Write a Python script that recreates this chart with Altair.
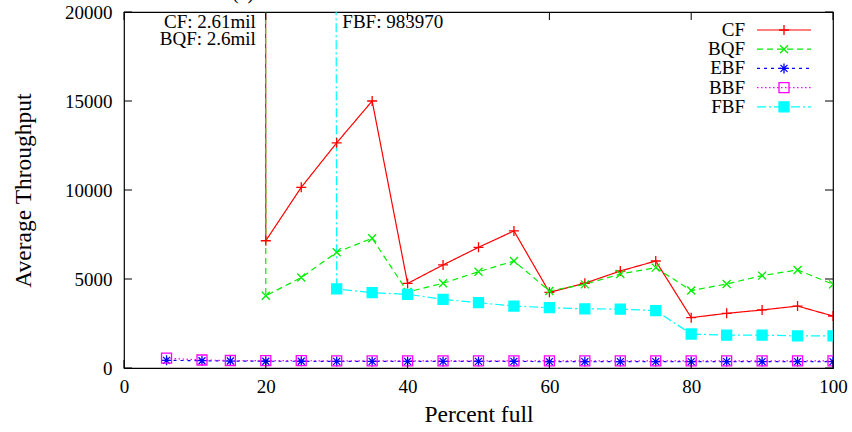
import altair as alt
import pandas as pd

# ---------------- data ----------------
series = ["CF", "BQF", "EBF", "BBF", "FBF"]
colors = ["#ff0000", "#00ee00", "#0000ff", "#ff00ff", "#00ffff"]
dashes = [[1, 0], [6, 4], [3, 4], [1.5, 2.5], [9, 3, 2, 3]]

x_cf = [15, 20, 25, 30, 35, 40, 45, 50, 55, 60, 65, 70, 75, 80, 85, 90, 95, 100]
cf = [2610000, 7150, 10150, 12650, 15000, 4750, 5790, 6780, 7700, 4250,
      4760, 5450, 6010, 2830, 3070, 3260, 3480, 2920]
bqf = [2600000, 4060, 5080, 6500, 7290, 4270, 4760, 5410, 6010, 4330,
       4700, 5280, 5640, 4350, 4720, 5190, 5510, 4700]

x_eb = [6, 11, 15, 20, 25, 30, 35, 40, 45, 50, 55, 60, 65, 70, 75, 80, 85, 90, 95, 100]
ebf = [430, 410, 390, 380, 380, 370, 370, 370, 370, 370,
       370, 360, 360, 360, 360, 360, 360, 360, 360, 360]
bbf = [550, 450, 420, 410, 410, 400, 400, 400, 400, 400,
       400, 400, 400, 400, 400, 400, 400, 400, 400, 400]

x_fbf = [25, 30, 35, 40, 45, 50, 55, 60, 65, 70, 75, 80, 85, 90, 95, 100]
fbf = [983970, 4440, 4230, 4140, 3860, 3670, 3480, 3390, 3320, 3310,
       3220, 1910, 1850, 1850, 1800, 1800]

x_ticks = [0, 20, 40, 60, 80, 100]
y_ticks = [0, 5000, 10000, 15000, 20000]

ann_text = ["CF: 2.61mil", "BQF: 2.6mil", "FBF: 983970"]
ann_x = [18.6, 18.6, 30.8]
ann_y = [19450, 18480, 19450]
ann_align = ["right", "right", "left"]

# ---------------- layout ----------------
W, H = 709, 356
FONT = "Liberation Serif"

rows = []
for name, xs, ys in [("CF", x_cf, cf), ("BQF", x_cf, bqf), ("EBF", x_eb, ebf),
                     ("BBF", x_eb, bbf), ("FBF", x_fbf, fbf)]:
    for xv, yv in zip(xs, ys):
        rows.append({"series": name, "x": xv, "y": yv})
df = pd.DataFrame(rows)

plus = "M-1,0L1,0M0,-1L0,1"
cross = "M-0.8,-0.8L0.8,0.8M-0.8,0.8L0.8,-0.8"
star = "M-1,0L1,0M0,-1L0,1M-0.7,-0.7L0.7,0.7M-0.7,0.7L0.7,-0.7"
shapes = [plus, cross, star, "square", "square"]
fills = ["transparent", "transparent", "transparent", "transparent", "#00ffff"]
sizes = [100, 100, 80, 70, 90]

xscale = alt.Scale(domain=[0, 100], nice=False, zero=False)
yscale = alt.Scale(domain=[0, 20000], nice=False, zero=False)

X = alt.X("x:Q", scale=xscale,
          axis=alt.Axis(values=x_ticks, ticks=False, domain=False, grid=False,
                        labelFontSize=19, labelPadding=9, title="Percent full",
                        titleFontSize=23.5, titleFontWeight="normal", titlePadding=6,
                        labelFont=FONT, titleFont=FONT, labelColor="black",
                        titleColor="black", labelFlush=False))
Y = alt.Y("y:Q", scale=yscale,
          axis=alt.Axis(values=y_ticks, format="d", ticks=False, domain=False, grid=False,
                        labelFontSize=19, labelPadding=12, title="Average Throughput",
                        titleFontSize=23.5, titleFontWeight="normal", titlePadding=29,
                        labelFont=FONT, titleFont=FONT, labelColor="black",
                        titleColor="black", labelFlush=False))

col = alt.Color("series:N", scale=alt.Scale(domain=series, range=colors), legend=None)
dash = alt.StrokeDash("series:N", scale=alt.Scale(domain=series, range=dashes), legend=None)
shp = alt.Shape("series:N", scale=alt.Scale(domain=series, range=shapes), legend=None)
fil = alt.Fill("series:N", scale=alt.Scale(domain=series, range=fills), legend=None)
siz = alt.Size("series:N", scale=alt.Scale(domain=series, range=sizes), legend=None)

lines = alt.Chart(df).mark_line(clip=True, strokeWidth=1.2).encode(
    x=X, y=Y, color=col, strokeDash=dash, detail="series:N")
points = alt.Chart(df).mark_point(clip=True, strokeWidth=1.3, opacity=1).encode(
    x=alt.X("x:Q", scale=xscale), y=alt.Y("y:Q", scale=yscale),
    stroke=alt.Stroke("series:N", scale=alt.Scale(domain=series, range=colors), legend=None),
    fill=fil, shape=shp, size=siz)

# inward ticks (gnuplot style, mirrored)
xt = pd.DataFrame({"x": x_ticks})
yt = pd.DataFrame({"y": y_ticks})
tick_b = alt.Chart(xt).mark_rule(color="black").encode(
    x=alt.X("x:Q", scale=xscale), y=alt.value(H), y2=alt.value(H - 8))
tick_t = alt.Chart(xt).mark_rule(color="black").encode(
    x=alt.X("x:Q", scale=xscale), y=alt.value(0), y2=alt.value(8))
tick_l = alt.Chart(yt).mark_rule(color="black").encode(
    y=alt.Y("y:Q", scale=yscale), x=alt.value(0), x2=alt.value(8))
tick_r = alt.Chart(yt).mark_rule(color="black").encode(
    y=alt.Y("y:Q", scale=yscale), x=alt.value(W), x2=alt.value(W - 8))

# annotations
ann_df = pd.DataFrame({"t": ann_text, "x": ann_x, "y": ann_y, "a": ann_align})
ann_layers = []
for al in ["left", "right"]:
    ann_layers.append(
        alt.Chart(ann_df).transform_filter(alt.datum.a == al).mark_text(
            align=al, baseline="middle", font=FONT, fontSize=19, color="black").encode(
            x=alt.X("x:Q", scale=xscale), y=alt.Y("y:Q", scale=yscale), text="t:N"))

# legend (gnuplot style: label, then line sample with marker)
leg_df = pd.DataFrame({"series": series})
legend_layers = []
for i, s in enumerate(series):
    yy = 18 + 19.2 * i
    base = alt.Chart(leg_df).transform_filter(alt.datum.series == s)
    legend_layers.append(base.mark_text(align="right", baseline="middle", font=FONT,
                                        fontSize=19, color="black").encode(
        x=alt.value(621), y=alt.value(yy), text="series:N"))
    legend_layers.append(base.mark_rule(strokeWidth=1.2).encode(
        x=alt.value(633), x2=alt.value(687), y=alt.value(yy), color=col, strokeDash=dash))
    legend_layers.append(base.mark_point(strokeWidth=1.3, opacity=1).encode(
        x=alt.value(660), y=alt.value(yy),
        stroke=alt.Stroke("series:N", scale=alt.Scale(domain=series, range=colors), legend=None),
        fill=fil, shape=shp, size=siz))

# partially visible (clipped) panel label above the frame
title_df = pd.DataFrame({"t": ["(a)"]})
title = alt.Chart(title_df).mark_text(align="left", baseline="alphabetic", font=FONT,
                                      fontSize=20, color="black").encode(
    x=alt.value(108), y=alt.value(-13), text="t:N")

chart = alt.layer(lines, points, tick_b, tick_t, tick_l, tick_r, *ann_layers,
                  *legend_layers, title).properties(
    width=W, height=H,
    autosize=alt.AutoSizeParams(type="none"),
    padding={"left": 124, "top": 12, "right": 19, "bottom": 64},
    background="white",
).configure_view(stroke="black", strokeWidth=1.2)

chart.save("out.html", embed_options={"renderer": "svg", "actions": False})
